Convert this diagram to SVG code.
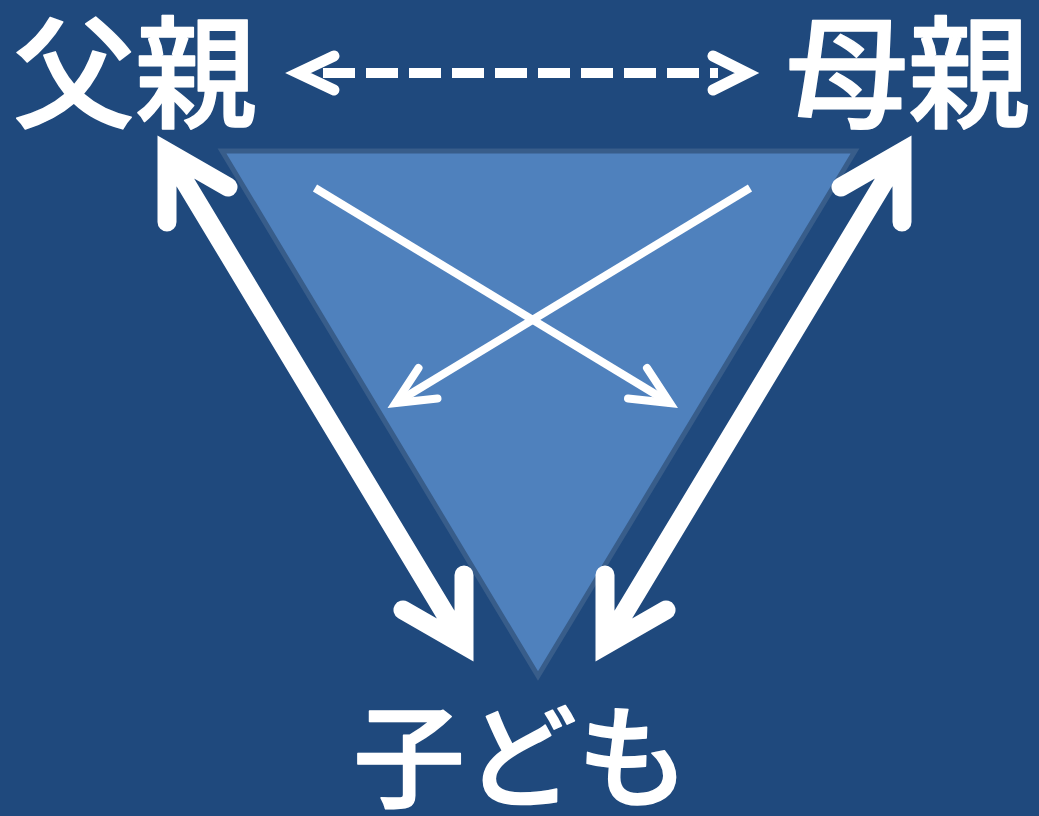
<svg xmlns="http://www.w3.org/2000/svg" width="1039" height="816" viewBox="0 0 1039 816">
<style>
.lbl{font-family:"Noto Sans CJK JP","Noto Sans CJK SC",sans-serif;font-weight:500;font-size:122px;fill:#fff;stroke:#fff;stroke-width:1.5;stroke-linejoin:round}
.big{fill:none;stroke:#fff;stroke-width:19;stroke-linecap:round;stroke-linejoin:miter;stroke-miterlimit:10}
.thin{fill:none;stroke:#fff;stroke-width:8;stroke-linejoin:miter;stroke-miterlimit:10}
.head{fill:none;stroke:#fff;stroke-width:8;stroke-linecap:round;stroke-linejoin:miter;stroke-miterlimit:10}
</style>
<rect width="1039" height="816" fill="#1F497D"/>
<g id="triangle">
<polygon points="222,151 855,151 538,676" fill="#4F81BD" stroke="#385D8A" stroke-width="5"/>
</g>
<g id="father"><text class="lbl" x="13" y="118">父親</text></g>
<g id="mother"><text class="lbl" x="786" y="118">母親</text></g>
<g id="child"><text class="lbl" x="521" y="799" text-anchor="middle" style="font-size:112px">子ども</text></g>
<g id="connectors">
<line x1="323" y1="73" x2="718" y2="73" stroke="#fff" stroke-width="10" stroke-dasharray="32 11"/>
<path class="head" d="M334,56 L298,73 L334,90" style="stroke-width:11"/>
<path class="head" d="M713,56 L747,73 L713,90" style="stroke-width:11"/>
<path class="big" d="M167,222 L167,152 L228,187 M167,152 L464,645 M464,575 L464,645 L403,610"/>
<path class="big" d="M902,222 L902,152 L841,187 M902,152 L605,645 M605,575 L605,645 L666,610"/>
<path class="thin" d="M315,188 L670,403"/>
<path class="head" d="M647,368 L670,403 L628,398.5"/>
<path class="thin" d="M750,188 L395.5,403"/>
<path class="head" d="M418.5,368 L395.5,403 L437.5,398.5"/>
</g>
</svg>
